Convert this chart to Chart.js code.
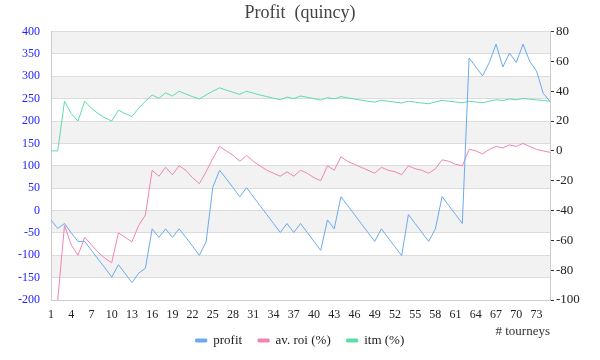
<!DOCTYPE html>
<html>
<head>
<meta charset="utf-8">
<script src="https://cdn.jsdelivr.net/npm/chart.js@4"></script>
<style>
  html, body { margin: 0; padding: 0; background: #fff; }
  #wrap { width: 600px; height: 360px; }
</style>
</head>
<body>
<div id="wrap"><canvas id="chart" width="600" height="360"></canvas></div>
<script>
// tourney numbers 1..75
const tourneys = [];
for (let i = 1; i <= 75; i++) tourneys.push(String(i));

const profit = [
  -21, -40, -29, -50, -69, -69, -89, -109, -128, -149,
  -121, -141, -161, -140, -129, -41, -60, -41, -60, -41,
  -60, -80, -100, -70, 52, 90, 71, 51, 31, 51,
  31, 11, -9, -29, -49, -29, -49, -29, -49, -69,
  -89, -21, -41, 31, 11, -9, -29, -49, -69, -41,
  -61, -81, -101, -9, -29, -49, -69, -41, 31, 11,
  -9, -29, 341, 321, 301, 331, 372, 321, 352, 331,
  372, 333, 312, 262, 244
];
const avRoi = [
  -120, -100, -50, -63, -70, -58, -63, -68, -72, -75,
  -55, -58, -61, -50, -43, -13, -17, -11, -16, -10,
  -13, -18, -22, -14, -5, 3, 0, -3, -7, -3,
  -7, -10, -13, -15, -17, -14, -17, -13, -15, -18,
  -20, -10, -13, -4, -7, -9, -11, -13, -15, -11,
  -13, -14, -16, -10, -12, -13, -15, -12, -6, -7,
  -9, -10, 1, 0, -2, 1, 3, 2, 4, 3,
  5, 3, 1, 0, -1
];
const itm = [
  0, 0, 33.3, 25, 20, 33.3, 28.6, 25, 22.2, 20,
  27.3, 25, 23.1, 28.6, 33.3, 37.5, 35.3, 38.9, 36.8, 40,
  38.1, 36.4, 34.8, 37.5, 40, 42.3, 40.7, 39.3, 37.9, 40,
  38.7, 37.5, 36.4, 35.3, 34.3, 36.1, 35.1, 36.8, 35.9, 35,
  34.1, 35.7, 34.9, 36.4, 35.6, 34.8, 34, 33.3, 32.7, 34,
  33.3, 32.7, 32.1, 33.3, 32.7, 32.1, 31.6, 32.8, 33.9, 33.3,
  32.8, 32.3, 33.3, 32.8, 32.3, 33.3, 34.3, 33.8, 34.8, 34.3,
  35.2, 34.7, 34.2, 33.8, 33.3
];

const FONT = 'Georgia, "Liberation Serif", serif';

// grey bands between every other gridline of the left axis
const bands = {
  id: 'bands',
  beforeDraw(chart) {
    const {ctx, chartArea, scales} = chart;
    const y = scales.y;
    ctx.save();
    ctx.fillStyle = '#f2f2f2';
    y.ticks.forEach((t, i) => {
      if (i === 0) return;
      if (t.value % 100 !== 0) return;
      const top = y.getPixelForValue(t.value);
      const bot = y.getPixelForValue(y.ticks[i - 1].value);
      ctx.fillRect(chartArea.left, top, chartArea.right - chartArea.left, bot - top);
    });
    ctx.restore();
  }
};

new Chart(document.getElementById('chart'), {
  type: 'line',
  data: {
    labels: tourneys,
    datasets: [
      { label: 'profit', data: profit, yAxisID: 'y',
        borderColor: '#6aaaf0', backgroundColor: '#6aaaf0' },
      { label: 'av. roi (%)', data: avRoi, yAxisID: 'y1',
        borderColor: '#f283b6', backgroundColor: '#f283b6' },
      { label: 'itm (%)', data: itm, yAxisID: 'y1',
        borderColor: '#5fdca5', backgroundColor: '#5fdca5' }
    ]
  },
  options: {
    responsive: false,
    animation: false,
    layout: { padding: { bottom: 3 } },
    elements: {
      point: { radius: 0 },
      line: { borderWidth: 1, tension: 0 }
    },
    plugins: {
      title: {
        display: true,
        text: 'Profit  (quincy)',
        color: '#444',
        font: { family: FONT, size: 18, weight: 'normal' },
        padding: { top: 2, bottom: 8 }
      },
      legend: {
        position: 'bottom',
        labels: {
          boxWidth: 11, boxHeight: 3, padding: 16,
          color: '#222',
          font: { family: FONT, size: 13 }
        }
      },
      tooltip: { enabled: false }
    },
    scales: {
      x: {
        grid: { display: false, drawTicks: false },
        border: { color: '#ccc' },
        ticks: {
          autoSkip: false, maxRotation: 0, padding: 8,
          color: '#222', font: { family: FONT, size: 12 },
          callback: (v, i) => (i % 3 === 0 ? tourneys[i] : '')
        },
        title: {
          display: true, text: '# tourneys', align: 'end',
          color: '#333', font: { family: FONT, size: 13 },
          padding: { top: 0, bottom: -21 }
        },
        afterFit: (s) => { s.height = 18; }
      },
      y: {
        position: 'left',
        min: -200, max: 400,
        ticks: { stepSize: 50, padding: 11, color: '#2323ff', font: { family: FONT, size: 12 } },
        grid: { color: '#dcdcdc', drawTicks: false },
        border: { color: '#ccc' },
        afterFit: (s) => { s.width = 51; }
      },
      y1: {
        position: 'right',
        min: -100, max: 80,
        ticks: {
          stepSize: 10, padding: 2, color: '#222', font: { family: FONT, size: 13 },
          callback: (v) => (v % 20 === 0 ? v : '')
        },
        grid: { drawOnChartArea: false, drawTicks: true, tickLength: 4, tickColor: '#333' },
        border: { color: '#ccc' },
        afterFit: (s) => { s.width = 50; }
      }
    }
  },
  plugins: [bands]
});
</script>
</body>
</html>
